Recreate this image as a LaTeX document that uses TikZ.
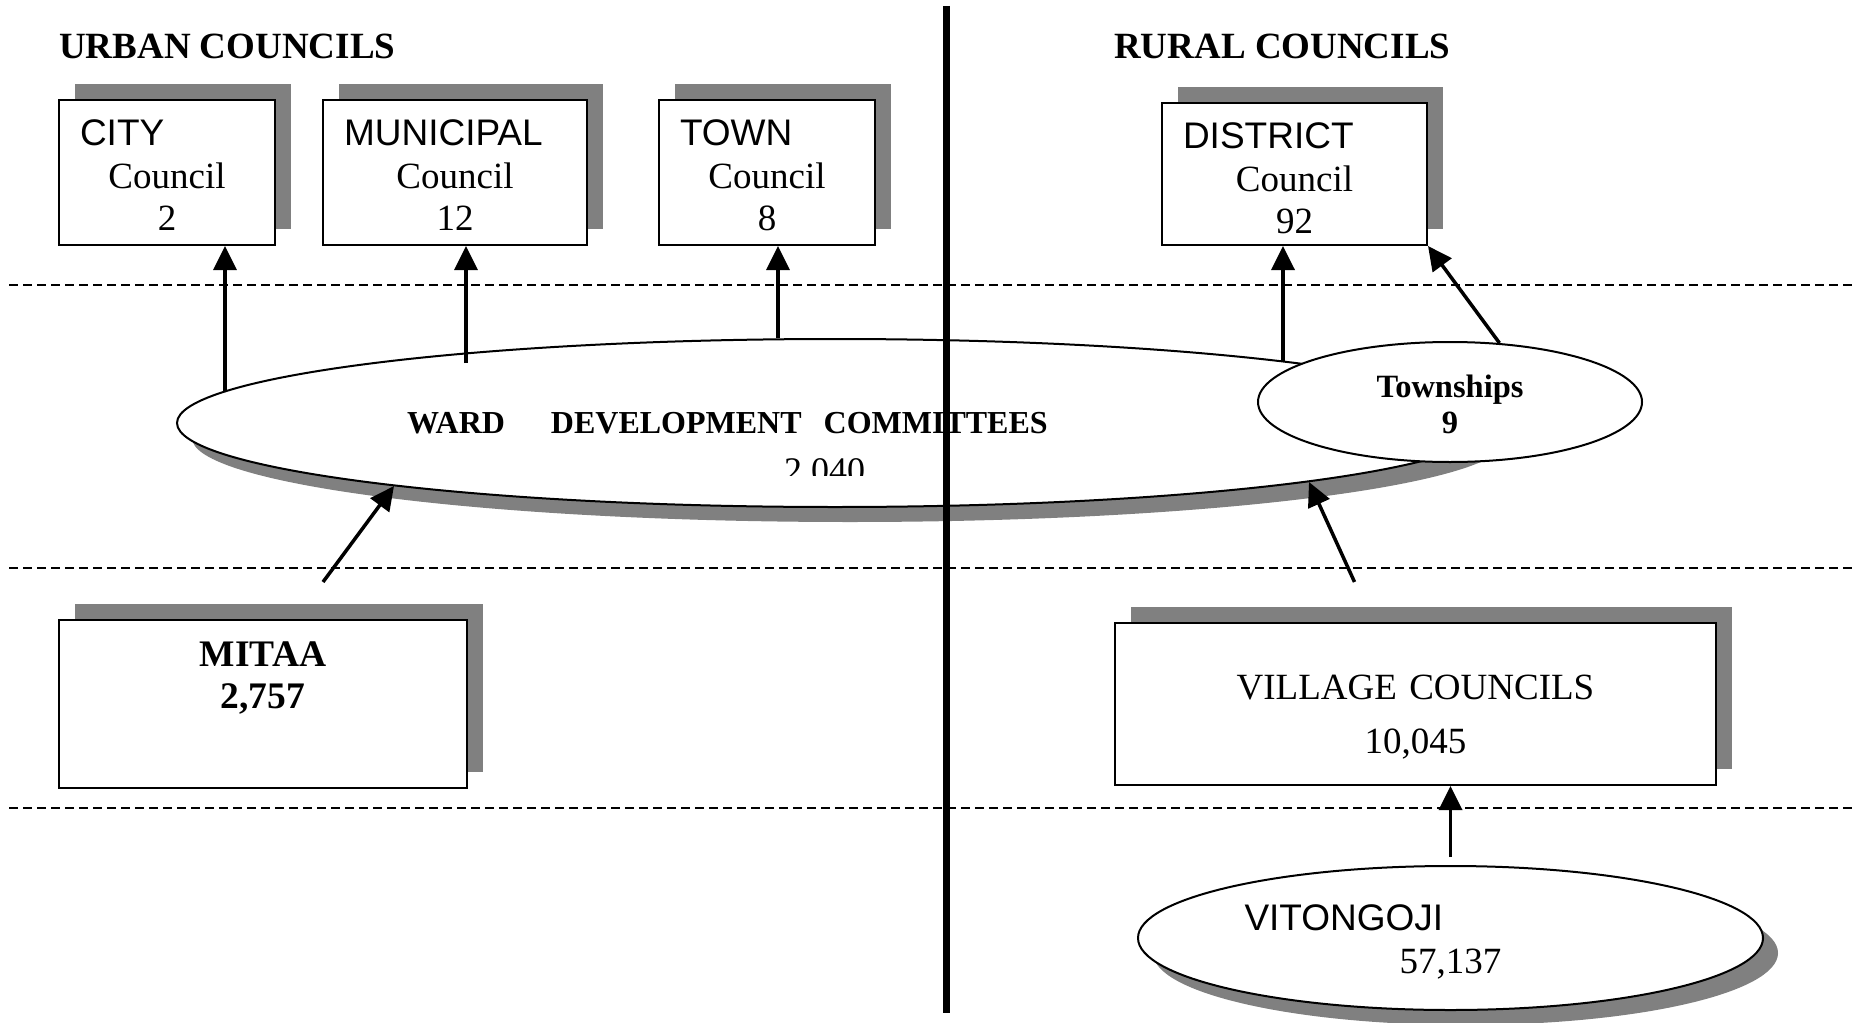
\documentclass[tikz,border=0pt]{standalone}
\usepackage{fontspec}
\setmainfont{Liberation Serif}
\setsansfont{Liberation Sans}
\usepackage{tikz}
\usetikzlibrary{arrows.meta, positioning, shapes.geometric, shadows}

\begin{document}
\begin{tikzpicture}[x=1pt, y=-1pt, >={Triangle[width=23pt,length=24pt]},
  box/.style={draw, fill=white, line width=2pt, anchor=north west, inner xsep=21pt, inner ysep=0pt, align=center, font=\fontsize{37}{42.5}\selectfont, text height=46pt, drop shadow={shadow xshift=16pt, shadow yshift=16pt, fill=gray, opacity=1}},
  oval/.style={draw, fill=white, ellipse, line width=2pt, inner sep=0pt, align=center},
  sink/.style={drop shadow={shadow xshift=15pt, shadow yshift=-15pt, fill=gray, opacity=1}},
  head/.style={font=\bfseries\fontsize{37}{42}\selectfont, anchor=base west, inner sep=0pt},
  level/.style={line width=2pt, dash pattern=on 9pt off 5pt},
  link/.style={->, line width=3.5pt}]
  \useasboundingbox (0,0) rectangle (1854,1022);
  \foreach \y in {285,568,808}
    \draw[level] (9,\y) -- (1854,\y);

  \node[head] (urban) at (59,59) {URBAN COUNCILS};
  \node[head] (rural) at (1114,59) {RURAL COUNCILS};

  \node[box, text width=174pt, text depth=99pt] (city) at (58,99) {{\sffamily CITY}\hfill\null\\Council\\2};
  \node[box, text width=222pt, text depth=99pt, right=46pt of city] (mun) {{\sffamily MUNICIPAL}\hfill\null\\Council\\12};
  \node[box, text width=174pt, text depth=99pt, right=70pt of mun] (town) {{\sffamily TOWN}\hfill\null\\Council\\8};
  \node[box, text width=223pt, text depth=96pt] (dist) at (1161,102) {{\sffamily DISTRICT}\hfill\null\\Council\\92};

  \node[oval, sink, minimum width=1316pt, minimum height=168pt] (ward) at (835,423) {};
  \node[font=\bfseries\fontsize{32}{36}\selectfont, anchor=base west, inner sep=0pt] (wdc) at (407,433) {WARD\hspace{46pt}DEVELOPMENT\hspace{22pt}COMMITTEES};
  \begin{scope}
    \clip (700,440) rectangle (900,475);
    \node[font=\fontsize{36}{36}\selectfont, anchor=base west, inner sep=0pt] (wnum) at (784,482) {2,040};
  \end{scope}
  \node[oval, minimum width=384pt, minimum height=120pt, text width=200pt, font=\bfseries\fontsize{32.5}{36}\selectfont, text height=28pt, text depth=38pt] (tsh) at (1450,402) {Townships\\9};

  \node[box, text width=366pt, text depth=122pt, font=\bfseries\fontsize{37.5}{42}\selectfont] (mitaa) at (58,619) {MITAA\\2,757};
  \node[box, text width=559pt, text height=76pt, text depth=86pt, font=\fontsize{37}{54}\selectfont] (vill) at (1114,622) {VILLAGE COUNCILS\\10,045};
  \node[oval, sink, minimum width=625pt, minimum height=144pt, text width=412pt, font=\fontsize{37}{43}\selectfont, text height=30pt, text depth=46pt] (vit) at (1450.5,938) {{\sffamily VITONGOJI}\hfill\null\\57,137};

  \draw[link] ([xshift=-610pt,yshift=32pt]ward.center) -- ([xshift=-610pt]ward.center |- city.south);
  \draw[link] ([xshift=-369pt,yshift=60pt]ward.center) -- ([xshift=-369pt]ward.center |- mun.south);
  \draw[link] ([xshift=-57pt,yshift=85pt]ward.center) -- ([xshift=-57pt]ward.center |- town.south);
  \draw[link] ([xshift=448pt,yshift=62pt]ward.center) -- ([xshift=448pt]ward.center |- dist.south);
  \draw[link] (tsh.50) -- (dist.south east);
  \draw[link] ([xshift=60pt,yshift=37pt]mitaa.north) -- ([xshift=-441pt,yshift=-63pt]ward.center);
  \draw[link] ([xshift=-61pt,yshift=40pt]vill.north) -- ([xshift=474pt,yshift=-59pt]ward.center);
  \draw[link] ([yshift=8pt]vit.north) -- (vit.north |- vill.south);

  \draw[line width=6.5pt] (946.5,6) -- (946.5,1013);
\end{tikzpicture}
\end{document}
